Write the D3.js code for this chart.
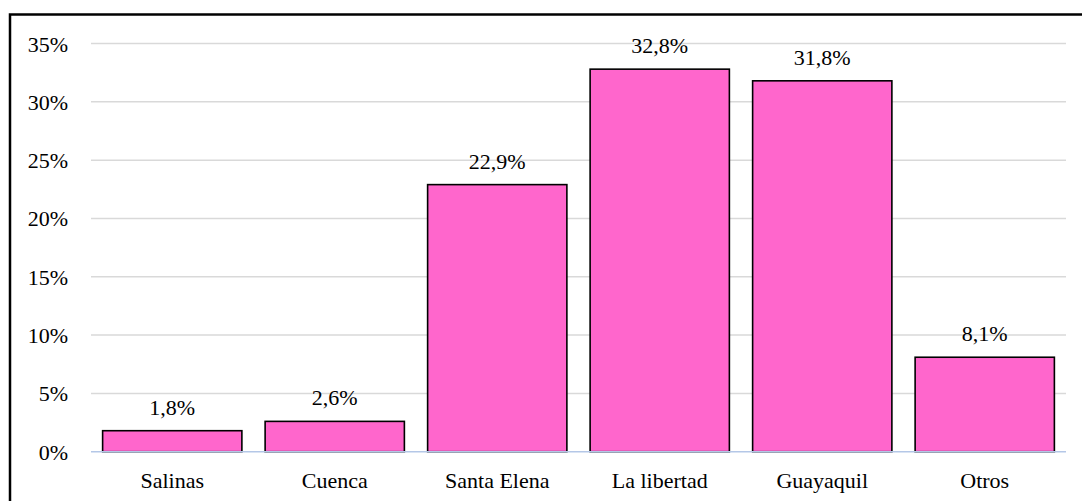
<html><head>
<meta charset="utf-8">
<script src="https://d3js.org/d3.v7.min.js"></script>
<style>
  body { margin: 0; background: #fff; }
  svg text { font-size: 22px; fill: #000; }
</style>
</head>
<body>
<script>
// categories and values (percent)
var ciudades = ["Salinas", "Cuenca", "Santa Elena", "La libertad", "Guayaquil", "Otros"];
var porcentajes = [1.8, 2.6, 22.9, 32.8, 31.8, 8.1];
var ticksY = [0, 5, 10, 15, 20, 25, 30, 35];

var W = 1082, H = 501;
var plotLeft = 91, plotRight = 1066, plotTop = 43.5, plotBottom = 451.7;
var serif = "Liberation Serif";

var svg = d3.select("body").append("svg")
    .attr("width", W).attr("height", H);

// outer frame (runs off the right and bottom edges like the screenshot)
svg.append("rect")
    .attr("x", 10).attr("y", 14.5)
    .attr("width", W + 10).attr("height", H + 10)
    .attr("fill", "none").attr("stroke", "#000").attr("stroke-width", 2.5);

var x = d3.scaleBand().domain(ciudades).range([plotLeft, plotRight]).paddingInner(0.143).paddingOuter(0.0715);
var y = d3.scaleLinear().domain([0, 35]).range([plotBottom, plotTop]);

// gridlines
svg.selectAll(".grid").data(ticksY.slice(1)).enter().append("line")
    .attr("x1", plotLeft).attr("x2", plotRight)
    .attr("y1", function(d) { return y(d); })
    .attr("y2", function(d) { return y(d); })
    .attr("stroke", "#d9d9d9").attr("stroke-width", 1.5);

// y tick labels
svg.selectAll(".tick-y").data(ticksY).enter().append("text")
    .attr("class", "tick-y")
    .style("font-family", serif)
    .attr("x", 68)
    .attr("y", function(d) { return y(d) + 8; })
    .attr("text-anchor", "end")
    .text(function(d) { return d + "%"; });

// bars
svg.selectAll(".bar").data(porcentajes).enter().append("rect")
    .attr("x", function(d, i) { return x(ciudades[i]); })
    .attr("y", function(d) { return y(d); })
    .attr("width", x.bandwidth())
    .attr("height", function(d) { return plotBottom - y(d); })
    .attr("fill", "#ff66cc").attr("stroke", "#000").attr("stroke-width", 1.6);

// baseline
svg.append("line")
    .attr("x1", plotLeft).attr("x2", plotRight)
    .attr("y1", plotBottom).attr("y2", plotBottom)
    .attr("stroke", "#b4c7e7").attr("stroke-width", 1.5);

// value labels
svg.selectAll(".bar-label").data(porcentajes).enter().append("text")
    .attr("class", "bar-label")
    .style("font-family", serif)
    .attr("x", function(d, i) { return x(ciudades[i]) + x.bandwidth() / 2; })
    .attr("y", function(d) { return y(d) - 16; })
    .attr("text-anchor", "middle")
    .text(function(d) { return d.toFixed(1).replace(".", ",") + "%"; });

// category labels
svg.selectAll(".tick-x").data(ciudades).enter().append("text")
    .attr("class", "tick-x")
    .style("font-family", serif)
    .attr("x", function(d) { return x(d) + x.bandwidth() / 2; })
    .attr("y", 488)
    .attr("text-anchor", "middle")
    .text(function(d) { return d; });
</script>
</body></html>
